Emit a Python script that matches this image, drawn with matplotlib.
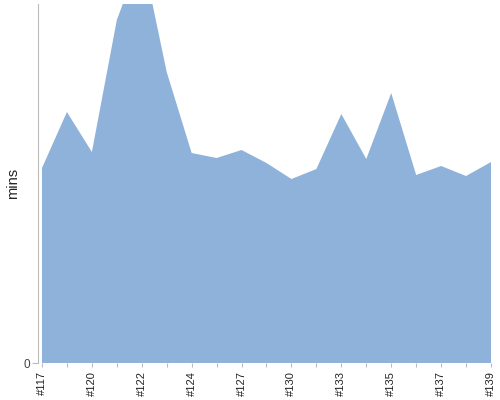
import matplotlib
matplotlib.use("Agg")
import matplotlib.pyplot as plt
import numpy as np

# build numbers (every other one labelled on the axis)
builds = ["#117", "#119", "#120", "#121", "#122", "#123", "#124", "#125", "#127", "#128",
          "#130", "#131", "#133", "#134", "#135", "#136", "#137", "#138", "#139"]
mins = [19.5, 25.1, 21.1, 34.3, 41.0, 29.1, 21.0, 20.5, 21.3, 20.0,
        18.4, 19.4, 24.9, 20.4, 27.0, 18.8, 19.7, 18.7, 20.1]

plt.rcParams["font.family"] = ["Liberation Sans", "DejaVu Sans"]

fig = plt.figure(figsize=(5, 4), dpi=100)
ax = fig.add_axes([0.076, 0.0925, 0.906, 0.8975])

x = np.arange(len(builds))
ax.fill_between(x, 0, mins, color="#8fb2da", linewidth=0)

ax.set_xlim(-0.16, len(builds) - 1)
ax.set_ylim(0, 35.9)

ax.set_xticks(x)
ax.set_xticklabels([b if i % 2 == 0 else "" for i, b in enumerate(builds)],
                   rotation=90, fontsize=8, color="#222222")
ax.set_yticks([0])
ax.set_yticklabels(["0"], fontsize=8.5, color="#444444")
ax.set_ylabel("mins", fontsize=10.5, color="#222222")
ax.yaxis.set_label_coords(-0.04, 0.5)

for s in ["top", "right", "bottom"]:
    ax.spines[s].set_visible(False)
ax.spines["left"].set_color("#bbbbbb")
ax.tick_params(axis="x", length=3, color="#bbbbbb", pad=3)
ax.tick_params(axis="y", length=4, color="#bbbbbb", pad=2)

fig.savefig("out.png", dpi=100)
